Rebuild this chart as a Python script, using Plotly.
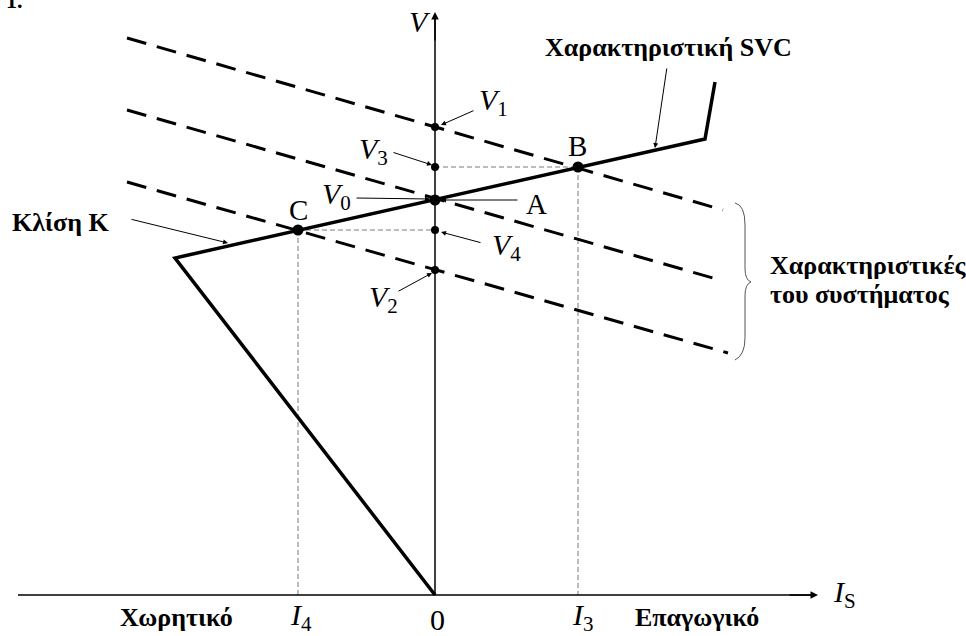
import plotly.graph_objects as go

# ---- data (I_S horizontal, V vertical; arbitrary units, origin at 0) ----
# system characteristics (dashed): end points of the three load lines
sys_I_left = [-308, -308, -308]
sys_V_left = [557, 485, 413]
sys_I_right = [288, 278, 293]
sys_V_right = [385, 317, 242]

# SVC characteristic (thick polyline)
svc_I = [0, -260, 270, 280]
svc_V = [0, 337, 456, 513]

# operating points
op_names = ["A", "B", "C"]
op_I = [0, 143, -137]
op_V = [395, 428, 365]

# voltages marked on the V axis
v_names = ["V1", "V3", "V4", "V2"]
v_vals = [468, 428, 365, 325]

# currents marked on the I axis
I3 = 143
I4 = -137

# axis extents
I_axis_min, I_axis_max = -417, 383
V_axis_max = 583

SERIF = "Liberation Serif, Times New Roman, serif"
BLACK = "#000000"
GREY = "#7a7a7a"

fig = go.Figure()

# thin dashed projection lines
proj_x = [0, I3, None, I4, 0, None, I4, I4, None, I3, I3]
proj_y = [op_V[1], op_V[1], None, op_V[2], op_V[2], None, op_V[2], 0, None, op_V[1], 0]
fig.add_trace(go.Scatter(x=proj_x, y=proj_y, mode="lines",
                         line=dict(color=GREY, width=1, dash="5px,3px"),
                         hoverinfo="skip", showlegend=False))

# vertical V axis and horizontal I axis
fig.add_trace(go.Scatter(x=[0, 0, None, I_axis_min, I_axis_max - 4],
                         y=[0, V_axis_max - 4, None, 0, 0], mode="lines",
                         line=dict(color=BLACK, width=1.5),
                         hoverinfo="skip", showlegend=False))

# system characteristics
for i in range(len(sys_I_left)):
    fig.add_trace(go.Scatter(x=[sys_I_left[i], sys_I_right[i]],
                             y=[sys_V_left[i], sys_V_right[i]], mode="lines",
                             line=dict(color=BLACK, width=3, dash="20px,11px"),
                             hoverinfo="skip", showlegend=False))

# SVC characteristic
fig.add_trace(go.Scatter(x=svc_I, y=svc_V, mode="lines",
                         line=dict(color=BLACK, width=3.5),
                         hoverinfo="skip", showlegend=False))

# small dots on the V axis
fig.add_trace(go.Scatter(x=[0] * len(v_vals), y=v_vals, mode="markers",
                         marker=dict(color=BLACK, size=8),
                         hoverinfo="skip", showlegend=False))
# operating points
fig.add_trace(go.Scatter(x=op_I, y=op_V, mode="markers",
                         marker=dict(color=BLACK, size=11),
                         hoverinfo="skip", showlegend=False))

ann = []


def arrow(x, y, ax, ay, width=1.0, size=1.0):
    ann.append(dict(x=x, y=y, ax=ax, ay=ay, xref="x", yref="y", axref="x", ayref="y",
                    text="", showarrow=True, arrowhead=2, arrowsize=size,
                    arrowwidth=width, arrowcolor=BLACK))


def label(x, y, text, size=30, xanchor="center", weight="normal"):
    ann.append(dict(x=x, y=y, xref="x", yref="y", text=text, showarrow=False,
                    xanchor=xanchor, yanchor="middle",
                    font=dict(family=SERIF, size=size, color=BLACK, weight=weight)))


def blabel(x, y, text, size=26, xanchor="center"):
    label(x, y, text, size=size, xanchor=xanchor, weight="bold")


# axis arrow heads
arrow(0, V_axis_max, 0, V_axis_max - 30, width=1.5, size=1.0)
arrow(I_axis_max, 0, I_axis_max - 30, 0, width=1.5, size=1.0)

# pointer arrows for the labels
arrow(6, 470, 40, 485)        # V1
arrow(-3, 430, -43, 443)      # V3
arrow(-5, 396, -80, 397)      # V0
arrow(6, 395, 84, 395)        # A
arrow(6, 363, 47, 352)        # V4
arrow(-3, 322, -38, 303)      # V2
arrow(-207, 352, -305, 376)   # slope K
arrow(220, 447, 232, 528)     # SVC characteristic

# axis and point labels
label(-15, 574, "<i>V</i>")
label(42, 493, "<i>V</i><sub>1</sub>", xanchor="left")
label(-78, 444, "<i>V</i><sub>3</sub>", xanchor="left")
label(-115, 399, "<i>V</i><sub>0</sub>", xanchor="left")
label(55, 348, "<i>V</i><sub>4</sub>", xanchor="left")
label(-68, 296, "<i>V</i><sub>2</sub>", xanchor="left")
label(101, 391, "A", size=29)
label(142, 449, "B", size=29)
label(-137, 385, "C", size=29)
label(396, 1, "<i>I</i><sub>S</sub>", xanchor="left")
label(-147, -22, "<i>I</i><sub>4</sub>", xanchor="left")
label(135, -22, "<i>I</i><sub>3</sub>", xanchor="left")
label(2, -24, "0")

# descriptive labels
blabel(233, 548, "Χαρακτηριστική SVC")
blabel(-375, 373, "Κλίση K")
blabel(333, 330, "Χαρακτηριστικές", xanchor="left")
blabel(333, 301, "του συστήματος", xanchor="left")
blabel(-259, -22, "Χωρητικό")
blabel(262, -22, "Επαγωγικό")

# curly brace grouping the system characteristics
bx0 = 300
brace = (f"M {bx0} 392 Q {bx0 + 10} 390 {bx0 + 10} 370 L {bx0 + 10} 327 "
         f"Q {bx0 + 10} 315 {bx0 + 16} 313 Q {bx0 + 10} 311 {bx0 + 10} 299 "
         f"L {bx0 + 10} 257 Q {bx0 + 10} 240 {bx0} 235")
shapes = [dict(type="path", path=brace, xref="x", yref="y",
               line=dict(color="#555555", width=1))]

fig.update_layout(
    width=966, height=636,
    margin=dict(l=0, r=0, t=0, b=0),
    paper_bgcolor="white", plot_bgcolor="white",
    xaxis=dict(range=[-435, 531], visible=False, fixedrange=True),
    yaxis=dict(range=[-41, 595], visible=False, fixedrange=True),
    annotations=ann + [dict(x=0.004, y=1.0, xref="paper", yref="paper", text="1.",
                            showarrow=False, xanchor="left", yanchor="middle",
                            font=dict(family=SERIF, size=22, color=BLACK,
                                      weight="bold"))],
    shapes=shapes,
    showlegend=False,
)

fig.write_html("out.html")
